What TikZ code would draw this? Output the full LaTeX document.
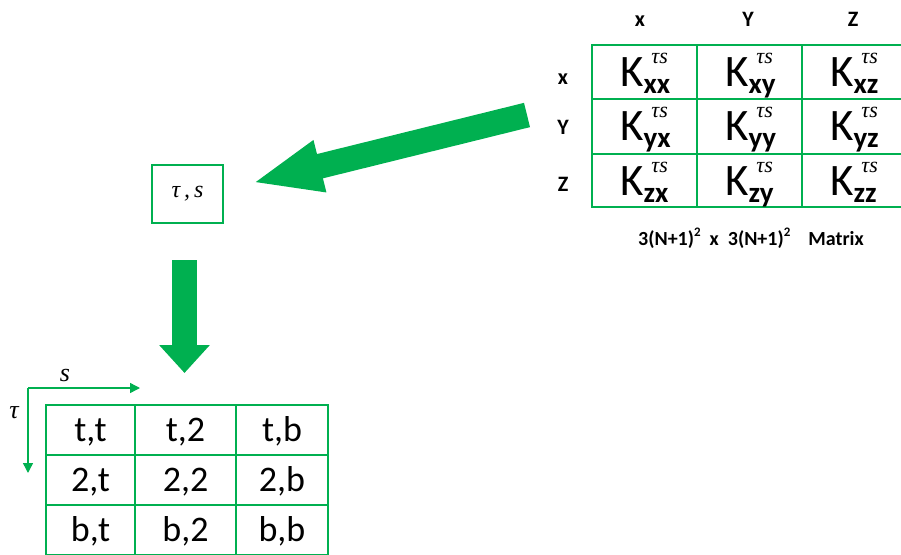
\documentclass[tikz,border=0pt]{standalone}
\usepackage{fontspec}
\setmainfont{Carlito}
\newfontfamily\tmsfam{Liberation Serif}
\newcommand\tmsit{\tmsfam\itshape}
\usetikzlibrary{arrows.meta,calc}
\definecolor{og}{HTML}{00B050}
\begin{document}
\begin{tikzpicture}[x=1pt,y=-1pt,
  gline/.style={draw=og,line width=2pt},
  hdr/.style={inner sep=0pt,anchor=base,font=\fontsize{22}{22}\selectfont\bfseries},
  kbig/.style={inner sep=0pt,anchor=base west,font=\fontsize{45}{45}\selectfont},
  ksup/.style={inner sep=0pt,anchor=base east,font=\fontsize{22}{22}\selectfont\tmsit},
  cell/.style={inner sep=0pt,anchor=base,font=\fontsize{36}{36}\selectfont},
  blockarrow/.style={draw=og,line width=25pt},
  axis/.style={draw=og,line width=1.4pt,-{Triangle[length=10pt,width=10pt]}}]
\useasboundingbox (0,0) rectangle (901,554);
\begin{scope}
\clip (0,0) rectangle (901,554);
% top-right matrix grid
\draw[gline] (592,45) rectangle (907,207);
\draw[gline] (592,99) -- (907,99) (592,154) -- (907,154);
\draw[gline] (697,45) -- (697,207) (802,45) -- (802,207);
% bottom table grid
\draw[gline] (46,405) rectangle (328,555);
\draw[gline] (46,455) -- (328,455) (46,505) -- (328,505);
\draw[gline] (135,405) -- (135,555) (236,405) -- (236,555);
\end{scope}
% headers
\node[hdr] (hx) at (640,27) {x};
\node[hdr] (hy) at (748,27) {Y};
\node[hdr] (hz) at (853,27) {Z};
\node[hdr] (rx) at (563,84) {x};
\node[hdr] (ry) at (563,134) {Y};
\node[hdr] (rz) at (563,191) {Z};
% K entries
\foreach \rn/\rt in {x/45, y/99, z/154} {
  \foreach \cn/\cl in {x/592, y/697, z/802} {
    \node[kbig] (K\rn\cn) at (\cl+28,\rt+41) {K\raisebox{-7pt}{\fontsize{29}{29}\selectfont\bfseries \rn\cn}};
    \node[ksup] (S\rn\cn) at (\cl+76,\rt+18) {τs};
  }
}
% caption
\node[inner sep=0pt,anchor=base west,font=\fontsize{20}{20}\selectfont\bfseries] (cap) at (638,245)
  {3(N+1)\raisebox{0.45em}{\fontsize{13}{13}\selectfont 2}\ \ x\ \ 3(N+1)\raisebox{0.45em}{\fontsize{13}{13}\selectfont 2}\ \ \ \ Matrix};
% tau,s box
\node[draw=og,line width=1.5pt,minimum width=71pt,minimum height=58pt,inner sep=0pt,font=\fontsize{24}{24}\selectfont\tmsit] (ts) at (187.5,194) {τ\,,\,s};
% arrows
\coordinate (a1s) at (527,115);
\coordinate (a1e) at (252,183);
\draw[blockarrow,-{Triangle[length=70pt,width=48pt]}] (a1s) -- (a1e);
\coordinate (a2s) at (184.5,260);
\coordinate (a2e) at (184.5,373);
\draw[blockarrow,-{Triangle[length=28pt,width=49pt]}] (a2s) -- (a2e);
% axes
\coordinate (ao) at (28,388);
\coordinate (as) at (140,388);
\coordinate (at) at (28,473);
\draw[axis] (ao) -- (as);
\draw[axis] (ao) -- (at);
\node[inner sep=0pt,font=\fontsize{26}{26}\selectfont\tmsit] (ls) at (65,375) {s};
\node[inner sep=0pt,font=\fontsize{26}{26}\selectfont\tmsit] (lt) at (14,413) {τ};
% table texts
\foreach \rn/\rt in {t/405, 2/455, b/505} {
  \foreach \cn/\cc in {t/90.5, 2/185.5, b/282} {
    \node[cell] (C\rn\cn) at (\cc,\rt+36) {\rn,\cn};
  }
}
\end{tikzpicture}
\end{document}
